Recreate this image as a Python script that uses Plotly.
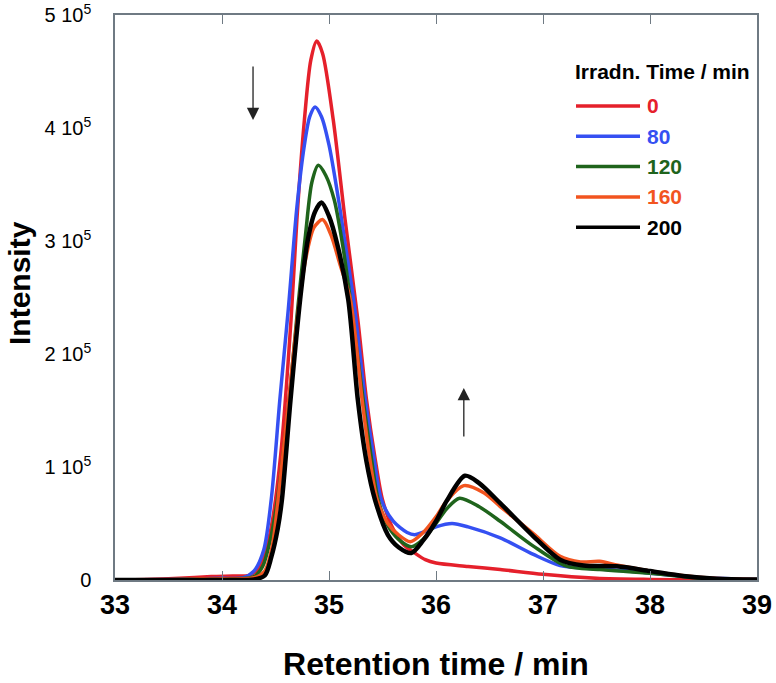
import plotly.graph_objects as go

# ---------------- data (intensity in units of 1e3) ----------------
t_red = [33.0, 33.3, 33.6, 33.9, 34.1, 34.25, 34.32, 34.40, 34.47, 34.55, 34.645, 34.70, 34.77, 34.83, 34.885,
         34.94, 35.04, 35.15, 35.27, 35.35, 35.43, 35.50, 35.60, 35.70, 35.80, 35.90, 36.0, 36.3, 36.6, 37.0,
         37.5, 38.0, 38.5, 39.0]
v_red = [0, 0.5, 1.5, 3, 3.5, 4, 8, 22, 52, 112, 230, 319, 407, 460, 477,
         466, 407, 319, 230, 160, 108, 71, 45, 31, 24, 18, 15, 12, 9.3, 5,
         1.5, 0.5, 0.2, 0]

t_blue = [33.0, 33.5, 34.0, 34.2, 34.3, 34.39, 34.46, 34.54, 34.62, 34.70, 34.77, 34.82, 34.87, 34.93, 35.0,
          35.09, 35.16, 35.23, 35.34, 35.42, 35.49, 35.60, 35.73, 35.80, 35.90, 36.0, 36.15, 36.3, 36.6, 36.91,
          37.16, 37.5, 37.8, 38.0, 38.5, 39.0]
v_blue = [0, 0.5, 1.5, 2, 8, 26.5, 71, 159, 240, 330, 385, 410, 418.6, 410, 385,
          336, 292, 248, 159, 108, 71, 52, 42, 40, 43, 47, 50, 47, 37.3, 22.6,
          12.8, 10, 8, 6, 2, 0.5]

t_green = [33.0, 33.5, 34.0, 34.3, 34.38, 34.45, 34.51, 34.58, 34.64, 34.70, 34.78, 34.84, 34.90, 34.97, 35.05,
           35.13, 35.20, 35.32, 35.40, 35.46, 35.55, 35.65, 35.77, 35.88, 36.0, 36.1, 36.22, 36.4, 36.6, 36.91,
           37.22, 37.53, 38.0, 38.47, 39.0]
v_green = [0, 0.3, 1, 3, 12, 35, 66, 118, 172, 233, 305, 352, 367, 358, 336,
           295, 248, 159, 105, 71, 48, 36, 29.5, 36, 50, 63, 72.3, 65, 52, 30,
           12.2, 9.3, 6, 1.5, 0]

t_orange = [33.0, 33.5, 33.8, 34.0, 34.3, 34.40, 34.47, 34.54, 34.62, 34.70, 34.78, 34.86, 34.94, 35.02, 35.10,
            35.20, 35.31, 35.38, 35.45, 35.55, 35.65, 35.76, 35.88, 36.0, 36.1, 36.26, 36.45, 36.6, 36.91, 37.16,
            37.35, 37.53, 37.7, 38.0, 38.3, 38.6, 39.0]
v_orange = [0, 0.5, 1, 1, 2, 8, 30, 85, 155, 228, 283, 312, 319, 305, 280,
            248, 159, 108, 71, 50, 40, 33.9, 42, 56, 70, 83.5, 77, 65, 41, 21,
            16, 16.5, 13, 8, 4, 1.5, 0.5]

t_black = [33.0, 34.0, 34.3, 34.40, 34.46, 34.52, 34.56, 34.64, 34.73, 34.80, 34.87, 34.93, 35.0, 35.08, 35.18,
           35.27, 35.35, 35.43, 35.55, 35.65, 35.77, 35.88, 36.0, 36.1, 36.27, 36.4, 36.6, 36.91, 37.16, 37.38,
           37.69, 38.0, 38.31, 38.62, 39.0]
v_black = [0, 0, 0.5, 4, 20, 45, 71, 159, 248, 300, 326, 334, 322, 296, 248,
           159, 105, 71, 40, 29, 23.9, 35, 52, 70, 92.3, 86, 68, 38.7, 18, 12.8,
           12.1, 7.9, 3.5, 1.2, 0.5]

series_names = ["0", "80", "120", "160", "200"]
series_t = [t_red, t_blue, t_green, t_orange, t_black]
series_v = [v_red, v_blue, v_green, v_orange, v_black]
series_colors = ["#e5202b", "#3550f2", "#1f641c", "#f2541f", "#000000"]
series_widths = [3.5, 3.5, 3.5, 3.5, 4.5]

y_tickvals = [0, 1e5, 2e5, 3e5, 4e5, 5e5]
y_ticktext = ["0", "1 10<sup>5</sup>", "2 10<sup>5</sup>", "3 10<sup>5</sup>", "4 10<sup>5</sup>", "5 10<sup>5</sup>"]
x_tickvals = [33, 34, 35, 36, 37, 38, 39]
x_ticktext = ["<b>%d</b>" % v for v in x_tickvals]

legend_title = "Irradn. Time / min"
x_title = "Retention time / min"
y_title = "Intensity"

FONT = "Liberation Sans, Arial, sans-serif"

PW, PH = 642.0, 565.0   # plot area size in px

fig = go.Figure()
for name, t, v, c, w in zip(series_names, series_t, series_v, series_colors, series_widths):
    fig.add_trace(go.Scatter(x=t, y=[a * 1000 for a in v], mode="lines", name=name,
                             line=dict(color=c, width=w, shape="spline", smoothing=0.8),
                             showlegend=False, hoverinfo="skip"))

axis_col = "#6f7a83"
fig.update_xaxes(range=[33, 39], tickvals=x_tickvals, ticktext=x_ticktext, ticks="inside", ticklen=9,
                 tickcolor=axis_col, tickwidth=1, showline=True, linecolor=axis_col, linewidth=1.5,
                 mirror="ticks", showgrid=False, zeroline=False, automargin=False,
                 tickfont=dict(family=FONT, size=27, color="#000"),
                 title=dict(text="<b>" + x_title + "</b>", font=dict(family=FONT, size=32, color="#000"),
                            standoff=33))
fig.update_yaxes(range=[0, 5e5], tickvals=y_tickvals, ticktext=y_ticktext, ticks="",
                 showline=True, linecolor=axis_col, linewidth=1.5, mirror=True,
                 showgrid=False, zeroline=False, ticklabelstandoff=18, automargin=False,
                 tickfont=dict(family=FONT, size=20, color="#000"))

# y-axis title as rotated annotation
fig.add_annotation(xref="paper", yref="paper", x=(19 - 115) / PW, y=(580 - 283) / PH,
                   text="<b>" + y_title + "</b>", showarrow=False, textangle=-90,
                   xanchor="center", yanchor="middle", font=dict(family=FONT, size=30, color="#000"))

# custom legend (paper coordinates)
x0p = (576 - 115) / PW
x1p = (640 - 115) / PW
xt = (645 - 115) / PW
fig.add_annotation(xref="paper", yref="paper", x=(573 - 115) / PW, y=(580 - 72) / PH,
                   text="<b>" + legend_title + "</b>", showarrow=False, xanchor="left", yanchor="middle",
                   font=dict(family=FONT, size=21, color="#000"))
for i, (name, c) in enumerate(zip(series_names, series_colors)):
    ypx = 106 + i * 30.3
    yp = (580 - ypx) / PH
    fig.add_shape(type="line", xref="paper", yref="paper", x0=x0p, x1=x1p, y0=yp, y1=yp,
                  line=dict(color=c, width=3.5))
    fig.add_annotation(xref="paper", yref="paper", x=xt, y=yp, text="<b>" + name + "</b>",
                       showarrow=False, xanchor="left", yanchor="middle",
                       font=dict(family=FONT, size=21, color=c))

# arrows
fig.add_annotation(x=34.29, y=407000, ax=0, ay=-55, xref="x", yref="y", text="", showarrow=True,
                   arrowhead=2, arrowsize=1.9, arrowwidth=1.3, arrowcolor="#222")
fig.add_annotation(x=36.26, y=170000, ax=0, ay=50, xref="x", yref="y", text="", showarrow=True,
                   arrowhead=2, arrowsize=1.9, arrowwidth=1.3, arrowcolor="#222")

fig.update_layout(width=776, height=683, margin=dict(l=115, r=19, t=15, b=103),
                  paper_bgcolor="white", plot_bgcolor="white", showlegend=False)

# remove the default page margin so the figure fills the window exactly
fig.write_html("out.html", config={"displayModeBar": False},
               post_script="document.body.style.margin='0px';document.body.style.overflow='hidden';")
